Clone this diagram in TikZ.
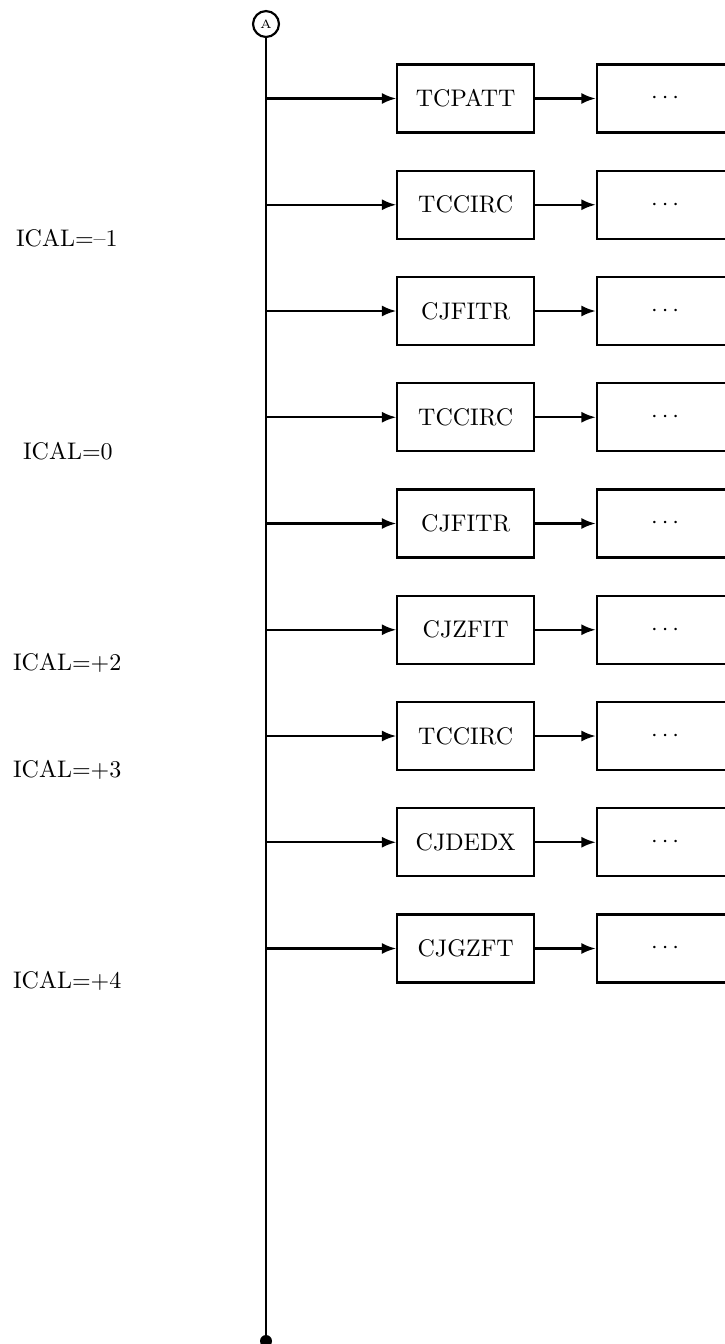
\documentclass[tikz,border=0pt]{standalone}
\usetikzlibrary{arrows.meta}
\begin{document}
\begin{tikzpicture}[x=0.4167pt,y=-0.4167pt,
  line width=0.9pt,
  procbox/.style={draw,line width=0.9pt,minimum width=57pt,minimum height=28.3pt,inner sep=0pt,font=\normalsize},
  flow/.style={-{Latex[length=6pt,width=4.6pt]},line width=0.9pt},
  lbl/.style={anchor=west,inner sep=0pt},
  conn/.style={draw,circle,line width=0.9pt,minimum size=10.8pt,inner sep=0pt,font=\tiny},
  enddot/.style={circle,fill=black,minimum size=5pt,inner sep=0pt}]
\useasboundingbox (0,0) rectangle (725,1344);
\clip (0,0) rectangle (725,1344);
\node[conn] (A) at (266,24) {A};
\node[enddot] (E) at (266,1341) {};
\draw (A.south) -- (E.center);
\foreach \i/\name in {0/TCPATT,1/TCCIRC,2/CJFITR,3/TCCIRC,4/CJFITR,5/CJZFIT,6/TCCIRC,7/CJDEDX,8/CJGZFT}{
  \coordinate (b\i) at (266,98.5+\i*106.25);
  \node[procbox] (p\i) at (465.7,98.5+\i*106.25) {\name};
  \node[procbox] (q\i) at (665.2,98.5+\i*106.25) {$\cdots$};
  \draw[flow] (b\i) -- (p\i.west);
  \draw[flow] (p\i.east) -- (q\i.west);
}
\node[lbl] (l1) at (15,238) {ICAL=--1};
\node[lbl] (l2) at (22,451) {ICAL=0};
\node[lbl] (l3) at (12,663) {ICAL=+2};
\node[lbl] (l4) at (12,770) {ICAL=+3};
\node[lbl] (l5) at (12,981) {ICAL=+4};
\end{tikzpicture}
\end{document}
